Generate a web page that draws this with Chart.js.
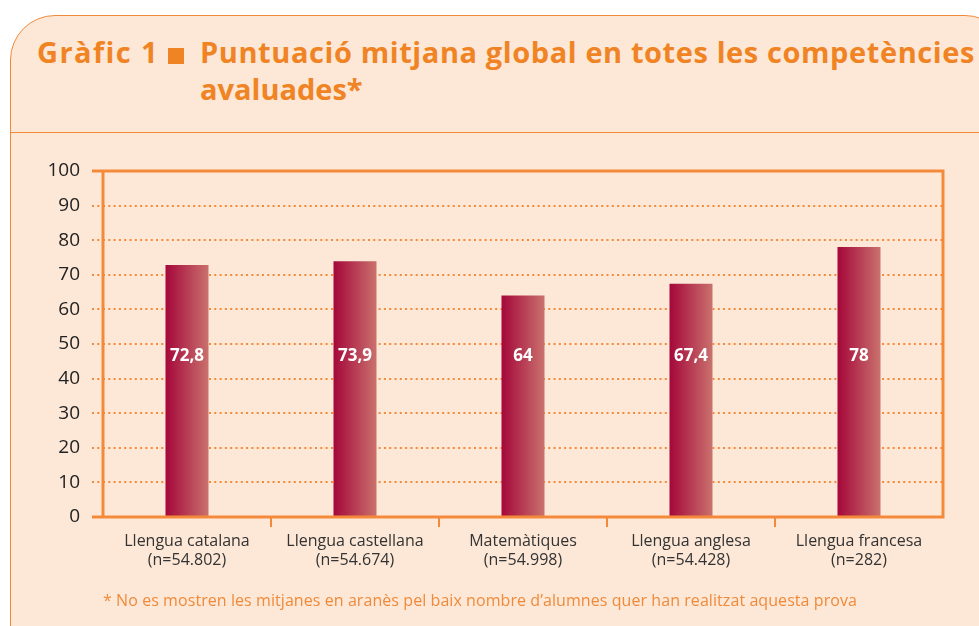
<!DOCTYPE html>
<html>
<head>
<meta charset="utf-8">
<script src="https://cdn.jsdelivr.net/npm/chart.js@4"></script>
<style>
    html, body { margin: 0; padding: 0; background: #fff; }
    body { width: 979px; height: 626px; position: relative; overflow: hidden; font-family: "Open Sans", sans-serif; }
    .panel {
        position: absolute; left: 10px; top: 15px; width: 1000px; height: 700px;
        background: #fde8d7; border: 1.5px solid #f08a3a; border-radius: 45px 45px 0 0;
        box-sizing: border-box;
    }
    .sep { position: absolute; left: 10px; top: 132px; width: 979px; height: 0; border-top: 1.5px solid #f08a3a; }
    .title {
        position: absolute; top: 33px; color: #f08424; font-weight: 700;
        font-size: 29px; line-height: 37px; white-space: nowrap;
    }
    #tPre { left: 37px; }
    #tMain { left: 200px; }
    .sq { display: inline-block; width: 16px; height: 16px; background: #f08424; margin-left: 9px; vertical-align: -1px; }
    #wrap { position: absolute; left: 0; top: 140px; width: 979px; height: 486px; }
    .note { position: absolute; left: 103px; top: 589px; color: #f08a3a; font-size: 16px; white-space: nowrap; }
</style>
</head>
<body>
<div class="panel"></div>
<div class="sep"></div>
<div class="title" id="tPre"><span id="tPreText">Gràfic 1</span><span class="sq"></span></div>
<div class="title" id="tMain"><span id="tLine1">Puntuació mitjana global en totes les competències</span><br>avaluades*</div>
<div id="wrap"><canvas id="chart"></canvas></div>
<div class="note"><span id="noteText">* No es mostren les mitjanes en aranès pel baix nombre d’alumnes quer han realitzat aquesta prova</span></div>

<script>
const categories = [
    ['Llengua catalana', '(n=54.802)'],
    ['Llengua castellana', '(n=54.674)'],
    ['Matemàtiques', '(n=54.998)'],
    ['Llengua anglesa', '(n=54.428)'],
    ['Llengua francesa', '(n=282)']
];
const scores = [72.8, 73.9, 64, 67.4, 78];
const scoreLabels = ['72,8', '73,9', '64', '67,4', '78'];

const ORANGE = '#f5893a';
const BAR_PCT = 0.256;
const LABEL_AT = 46.5;

// ajusta o espaçamento das letras para a largura do original
function fitText(el, target) {
    const n = el.textContent.length;
    const w = el.getBoundingClientRect().width;
    el.style.letterSpacing = ((target - w) / n) + 'px';
}
fitText(document.getElementById('tPreText'), 122);
fitText(document.getElementById('tLine1'), 775);
fitText(document.getElementById('noteText'), 754);

function barGradient(c) {
    const chart = c.chart;
    const x = chart.scales.x;
    if (!chart.chartArea || !x) return '#b02a48';
    const w = (x.width / categories.length) * BAR_PCT;
    const cx = x.getPixelForValue(c.dataIndex);
    const g = chart.ctx.createLinearGradient(cx - w / 2, 0, cx + w / 2, 0);
    g.addColorStop(0, '#a5073a');
    g.addColorStop(1, '#c9716d');
    return g;
}

const framePlugin = {
    id: 'frame',
    afterDatasetsDraw(chart) {
        const { ctx, chartArea: a } = chart;
        ctx.save();
        ctx.strokeStyle = ORANGE;
        ctx.lineWidth = 3;
        ctx.beginPath();
        ctx.moveTo(a.left - 11, a.top); ctx.lineTo(a.right + 1.5, a.top);
        ctx.moveTo(a.left, a.top); ctx.lineTo(a.left, a.bottom);
        ctx.moveTo(a.right, a.top); ctx.lineTo(a.right, a.bottom);
        ctx.moveTo(a.left - 11, a.bottom); ctx.lineTo(a.right + 1.5, a.bottom);
        ctx.stroke();

        // valores dentro das barras
        const meta = chart.getDatasetMeta(0);
        const y = chart.scales.y.getPixelForValue(LABEL_AT);
        ctx.fillStyle = '#fff';
        ctx.font = 'bold 17px "Open Sans", sans-serif';
        ctx.textAlign = 'center';
        ctx.textBaseline = 'middle';
        meta.data.forEach((bar, i) => ctx.fillText(scoreLabels[i], bar.x, y));
        ctx.restore();
    }
};

new Chart(document.getElementById('chart'), {
    type: 'bar',
    data: {
        labels: categories,
        datasets: [{
            data: scores,
            backgroundColor: barGradient,
            borderWidth: 0,
            barPercentage: BAR_PCT,
            categoryPercentage: 1
        }]
    },
    options: {
        responsive: true,
        maintainAspectRatio: false,
        animation: false,
        layout: { padding: { left: 0, top: 31, right: 36, bottom: 0 } },
        plugins: { legend: { display: false }, tooltip: { enabled: false } },
        scales: {
            y: {
                min: 0,
                max: 100,
                afterFit: s => { s.width = 103; },
                ticks: {
                    stepSize: 10,
                    color: '#222',
                    padding: 12,
                    font: { family: '"Open Sans", sans-serif', size: 19 }
                },
                grid: {
                    color: c => (c.tick && (c.tick.value === 0 || c.tick.value === 100)) ? 'transparent' : ORANGE,
                    tickColor: c => (c.tick && (c.tick.value === 0 || c.tick.value === 100)) ? 'transparent' : ORANGE,
                    lineWidth: 2,
                    tickLength: 11,
                    tickBorderDash: [2, 3.3]
                },
                border: { display: false, dash: [2, 3.3] }
            },
            x: {
                afterFit: s => { s.height = 109; },
                ticks: {
                    color: '#333',
                    padding: 5,
                    font: { family: '"Open Sans", sans-serif', size: 16, lineHeight: 1.2 }
                },
                grid: {
                    drawOnChartArea: false,
                    tickLength: 10,
                    lineWidth: 2,
                    color: c => (c.index > 0 && c.index < categories.length) ? ORANGE : 'transparent'
                },
                border: { display: false }
            }
        }
    },
    plugins: [framePlugin]
});
</script>
</body>
</html>
